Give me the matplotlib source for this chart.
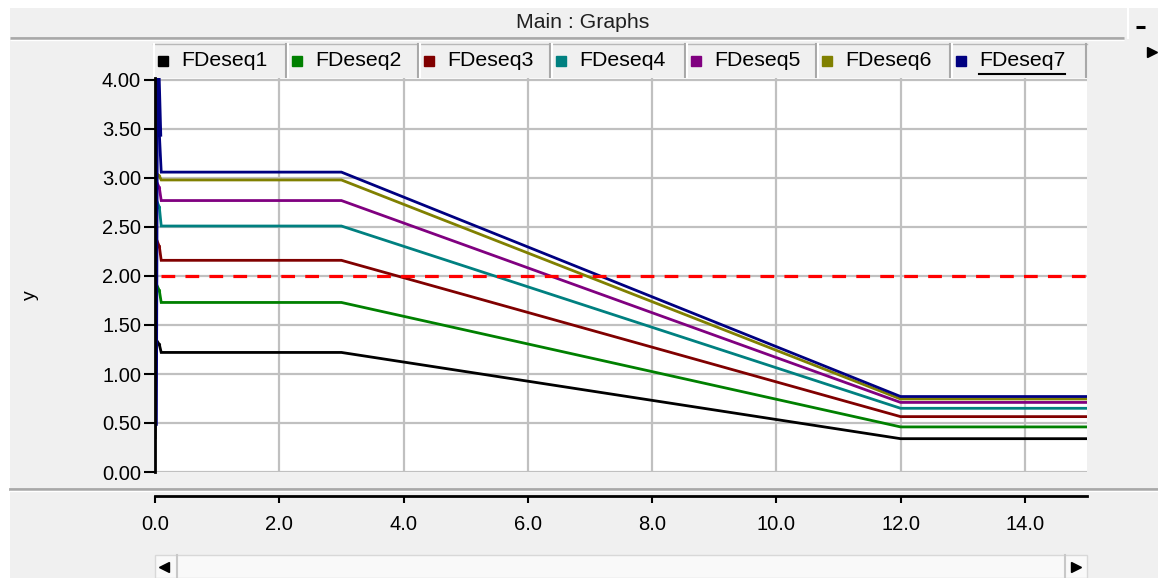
import matplotlib
matplotlib.use("Agg")
import matplotlib.pyplot as plt
from matplotlib.patches import Rectangle
from matplotlib.ticker import FormatStrFormatter

plt.rcParams['font.family'] = ['Liberation Sans', 'DejaVu Sans']

# ---------------- data ----------------
series_names = ['FDeseq1', 'FDeseq2', 'FDeseq3', 'FDeseq4', 'FDeseq5', 'FDeseq6', 'FDeseq7']
series_colors = ['#000000', '#008000', '#800000', '#008080', '#800080', '#808000', '#000080']
t_points = [0.0, 0.02, 0.07, 0.1, 3.0, 12.0, 15.0]
start_vals = [0.35, 0.62, 0.62, 0.72, 0.88, 1.00, 0.50]
peak_vals = [1.35, 1.92, 2.38, 2.78, 2.97, 3.05, 4.60]
settle_vals = [1.30, 1.85, 2.30, 2.70, 2.90, 3.02, 3.45]
plateau_vals = [1.22, 1.73, 2.16, 2.51, 2.77, 2.98, 3.06]
final_vals = [0.34, 0.46, 0.565, 0.65, 0.71, 0.745, 0.77]
threshold = 2.0
threshold_range = [0.1, 15.0]
x_ticks = [0.0, 2.0, 4.0, 6.0, 8.0, 10.0, 12.0, 14.0]
y_ticks = [0.0, 0.5, 1.0, 1.5, 2.0, 2.5, 3.0, 3.5, 4.0]
title_text = 'Main : Graphs'
y_label = 'y'

# ---------------- layout helpers ----------------
W, H = 1158, 578
fig = plt.figure(figsize=(W / 100, H / 100), dpi=100)
fig.patch.set_facecolor('white')


def rect(x0, y0, x1, y1):
    return [x0 / W, 1 - y1 / H, (x1 - x0) / W, (y1 - y0) / H]


# background / decoration layer (pixel coordinates)
bg = fig.add_axes([0, 0, 1, 1], zorder=0)
bg.set_xlim(0, W)
bg.set_ylim(H, 0)
bg.axis('off')
bg.add_patch(Rectangle((10, 8), W - 10, H - 8, facecolor='#f0f0f0', edgecolor='none'))
# title bar
bg.plot([10, 1124], [38, 38], color='#a8a8a8', lw=2, solid_capstyle='butt')
bg.plot([10, 1124], [40, 40], color='white', lw=1, solid_capstyle='butt')
bg.text(583, 22, title_text, ha='center', va='center', fontsize=15.3, color='#202020')
# minimize button
bg.add_patch(Rectangle((1127, 8), 31, 30, facecolor='#f0f0f0', edgecolor='none'))
bg.plot([1127.5, 1127.5], [8, 38], color='white', lw=1.5)
bg.plot([1136, 1145], [27, 27], color='black', lw=2.2, solid_capstyle='butt')
bg.plot([1152], [52], marker='>', color='black', markersize=7, ls='none')

# legend tabs
tab_edges = [153, 287, 419, 551, 686, 817, 951, 1087]
for i, (name, col) in enumerate(zip(series_names, series_colors)):
    l, r = tab_edges[i], tab_edges[i + 1]
    bg.add_patch(Rectangle((l, 43), r - l, 34, facecolor='#f0f0f0', edgecolor='none'))
    bg.plot([l, r], [43.5, 43.5], color='#b8b8b8', lw=1)
    bg.plot([l + 1, l + 1], [44, 77], color='white', lw=1.5)
    bg.plot([r - 1, r - 1], [44, 77], color='#a8a8a8', lw=1.5)
    bg.plot([l + 10], [61], marker='s', markersize=6.5, color=col, ls='none')
    bg.text(l + 28, 61, name, ha='left', va='center', fontsize=15.3, color='black')
    if i == len(series_names) - 1:
        bg.plot([l + 28, l + 114], [74, 74], color='black', lw=1.5)

# separator above x axis
bg.plot([10, W], [489, 489], color='#a8a8a8', lw=2)
bg.plot([10, W], [491, 491], color='white', lw=1)

# scrollbar
bg.add_patch(Rectangle((155, 555), 932, 23, facecolor='#f9f9f9', edgecolor='#d8d8d8', lw=1))
bg.plot([177, 177], [555, 578], color='#c8c8c8', lw=1.5)
bg.plot([1065, 1065], [555, 578], color='#c8c8c8', lw=1.5)
bg.plot([164], [567], marker='<', color='black', markersize=7, ls='none')
bg.plot([1076], [567], marker='>', color='black', markersize=7, ls='none')

# ---------------- main plot ----------------
ax = fig.add_axes(rect(155, 78, 1087, 472), zorder=2)
ax.set_facecolor('white')
for name, col, s0, pk, st, pl, fn in zip(series_names, series_colors, start_vals,
                                         peak_vals, settle_vals, plateau_vals, final_vals):
    yv = [s0, pk, st, pl, pl, fn, fn]
    lw = 4 if name == 'FDeseq7' else 2
    ax.plot(t_points[:3], yv[:3], color=col, lw=lw, zorder=3)
    ax.plot(t_points[2:], yv[2:], color=col, lw=2, solid_joinstyle='miter', zorder=3)
ax.plot(threshold_range, [threshold, threshold], color='#ff0000', lw=2.3,
        dashes=(4.3, 3.2), zorder=4)

ax.set_xlim(0, 15)
ax.set_ylim(0, (472 - 78) / 98)
ax.set_xticks(x_ticks)
ax.set_yticks(y_ticks)
ax.yaxis.set_major_formatter(FormatStrFormatter('%.2f'))
ax.tick_params(axis='x', length=0, labelbottom=False)
ax.tick_params(axis='y', length=8, width=1.5, direction='out', labelsize=14.5, pad=2,
               colors='black')
ax.grid(True, color='#c0c0c0', lw=1.6)
ax.set_axisbelow(True)
for sp in ['top', 'right', 'bottom']:
    ax.spines[sp].set_visible(False)
ax.spines['left'].set_linewidth(2)
ax.spines['left'].set_color('black')
ax.spines['left'].set_zorder(5)

fig.text(30 / W, 1 - 295 / H, y_label, rotation=90, ha='center', va='center', fontsize=14)

# ---------------- separate x axis ----------------
xa = fig.add_axes(rect(155, 494, 1087, 495.5), zorder=2)
xa.set_facecolor('none')
xa.set_xlim(0, 15)
xa.set_xticks(x_ticks)
xa.xaxis.set_major_formatter(FormatStrFormatter('%.1f'))
xa.set_yticks([])
for sp in ['top', 'left', 'right']:
    xa.spines[sp].set_visible(False)
xa.spines['bottom'].set_linewidth(2)
xa.tick_params(axis='x', length=5, width=1.5, direction='out', labelsize=14.5, pad=9)

fig.savefig('out.png', dpi=100, facecolor=fig.get_facecolor())
